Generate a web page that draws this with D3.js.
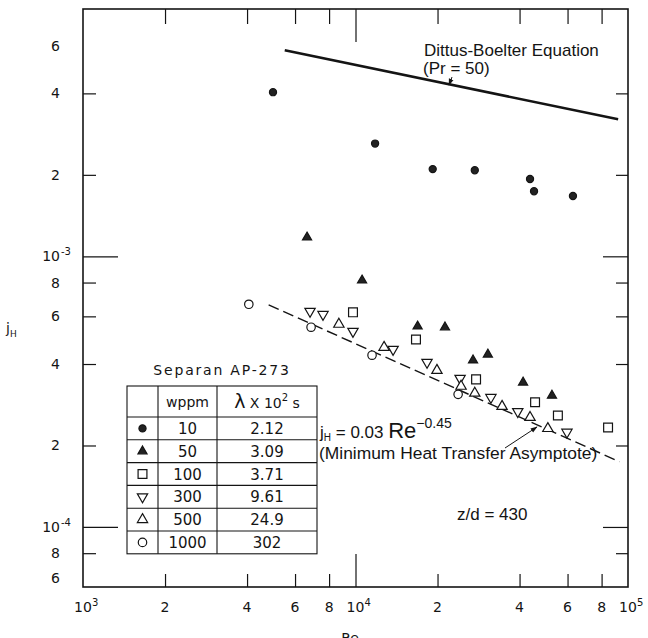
<!DOCTYPE html>
<html>
<head>
<meta charset="utf-8">
<script src="https://cdn.jsdelivr.net/npm/d3@7"></script>
<style>
  body { margin: 0; background: #fff; }
  svg { display: block; }
</style>
</head>
<body>
<svg id="chart" width="648" height="638"></svg>
<script>
// ---- Heat transfer data: j_H versus Re, Separan AP-273 solutions ----
const re10   = [4980, 11800, 19200, 27400, 43700, 45200, 62800];
const jh10   = [4.04e-3, 2.61e-3, 2.10e-3, 2.08e-3, 1.93e-3, 1.74e-3, 1.67e-3];

const re50   = [6640, 10570, 16900, 21300, 27000, 30600, 41200, 52600];
const jh50   = [1.175e-3, 8.15e-4, 5.51e-4, 5.47e-4, 4.13e-4, 4.34e-4, 3.42e-4, 3.06e-4];

const re100  = [9790, 16670, 27700, 45600, 55300, 84500];
const jh100  = [6.21e-4, 4.93e-4, 3.51e-4, 2.89e-4, 2.58e-4, 2.33e-4];

const re300  = [6810, 7600, 9790, 13740, 18300, 24200, 31400, 39400, 59700];
const jh300  = [6.26e-4, 6.10e-4, 5.28e-4, 4.53e-4, 4.06e-4, 3.54e-4, 3.01e-4, 2.67e-4, 2.24e-4];

const re500  = [8690, 12730, 19900, 24400, 27400, 34500, 43700, 50800];
const jh500  = [5.61e-4, 4.61e-4, 3.79e-4, 3.31e-4, 3.12e-4, 2.79e-4, 2.54e-4, 2.31e-4];

const re1000 = [4060, 6870, 11500, 23800];
const jh1000 = [6.65e-4, 5.47e-4, 4.31e-4, 3.09e-4];

// Legend table contents
const wppm         = ["10", "50", "100", "300", "500", "1000"];
const lambdaLabels = ["2.12", "3.09", "3.71", "9.61", "24.9", "302"];
const symbolKeys   = ["filledCircle", "filledTriangle", "square", "downTriangle", "upTriangle", "circle"];

// Correlation lines
const dittusRe = [5500, 92000];
const dittusJh = [5.77e-3, 3.21e-3];
const asymCoef = 0.03;
const asymExp  = -0.45;
const asymRe   = [4800, 93000];

// Axis ticks and labels
const xMajor = [1e4];
const xMinor = [2e3, 4e3, 6e3, 8e3, 2e4, 4e4, 6e4, 8e4];
const xLabelVals = [1e3, 2e3, 4e3, 6e3, 8e3, 1e4, 2e4, 4e4, 6e4, 8e4, 1e5];
const xLabelMant = ["10", "2", "4", "6", "8", "10", "2", "4", "6", "8", "10"];
const xLabelExp  = ["3", "", "", "", "", "4", "", "", "", "", "5"];

const yMajor = [1e-4, 1e-3];
const yMinor = [8e-5, 2e-4, 4e-4, 6e-4, 8e-4, 2e-3, 4e-3];
const yLabelVals = [6e-3, 4e-3, 2e-3, 1e-3, 8e-4, 6e-4, 4e-4, 2e-4, 1e-4, 8e-5, 6e-5];
const yLabelMant = ["6", "4", "2", "10", "8", "6", "4", "2", "10", "8", "6"];
const yLabelExp  = ["", "", "", "-3", "", "", "", "", "-4", "", ""];

// ---- Layout ----
const svg = d3.select("#chart");
const X0 = 83, X1 = 628, Y0 = 587, Y1 = 9;
const INK = "#141414";
const x = d3.scaleLog().domain([1e3, 1e5]).range([X0, X1]);
const y = d3.scaleLog().domain([6e-5, 8.2e-3]).range([Y0, Y1]);

const tickFont = "'DejaVu Sans', sans-serif";
const textFont = "'Liberation Sans', Arial, Helvetica, sans-serif";

// arrowhead
svg.append("defs").append("marker")
  .attr("id", "arrow").attr("viewBox", "0 0 10 10")
  .attr("refX", 9).attr("refY", 5)
  .attr("markerWidth", 7).attr("markerHeight", 7)
  .attr("orient", "auto-start-reverse")
  .append("path").attr("d", "M0,1.5 L10,5 L0,8.5 Z").attr("fill", INK);

// ---- Ticks (all pointing into the plot) ----
function ticks(axis, vals, len, tx, ty) {
  svg.append("g").attr("transform", `translate(${tx},${ty})`)
    .call(axis.tickValues(vals).tickSize(len).tickFormat(""))
    .call(g => g.select(".domain").remove())
    .call(g => g.selectAll("line").attr("stroke", INK).attr("stroke-width", 1.2));
}
ticks(d3.axisLeft(y),   yMinor, -13, X0, 0);
ticks(d3.axisLeft(y),   yMajor, -35, X0, 0);
ticks(d3.axisRight(y),  yMinor, -12, X1, 0);
ticks(d3.axisRight(y),  yMajor, -25, X1, 0);
ticks(d3.axisBottom(x), xMinor, -13, 0, Y0);
ticks(d3.axisBottom(x), xMajor, -33, 0, Y0);
ticks(d3.axisTop(x),    xMinor, -15, 0, Y1);
ticks(d3.axisTop(x),    xMajor, -33, 0, Y1);

// frame
svg.append("rect")
  .attr("x", X0).attr("y", Y1).attr("width", X1 - X0).attr("height", Y0 - Y1)
  .attr("fill", "none").attr("stroke", INK).attr("stroke-width", 1.6);

// ---- Tick labels ----
const yl = svg.append("g").attr("font-family", tickFont).attr("fill", INK);
yLabelVals.forEach((v, i) => {
  let py = y(v) + 5;
  if (v === y.domain()[0]) py -= 9;
  yl.append("text").attr("x", 60).attr("y", py).attr("text-anchor", "end")
    .attr("font-size", 14).text(yLabelMant[i]);
  if (yLabelExp[i]) {
    yl.append("text").attr("x", 61).attr("y", py - 6).attr("font-size", 10)
      .text(yLabelExp[i]);
  }
});

const xl = svg.append("g").attr("font-family", tickFont).attr("fill", INK);
xLabelVals.forEach((v, i) => {
  const px = x(v);
  xl.append("text").attr("x", px).attr("y", 612).attr("text-anchor", "middle")
    .attr("font-size", 14).text(xLabelMant[i]);
  if (xLabelExp[i]) {
    xl.append("text").attr("x", px + 9).attr("y", 606).attr("font-size", 10)
      .text(xLabelExp[i]);
  }
});

// axis titles
svg.append("text").attr("x", 350).attr("y", 643).attr("text-anchor", "middle")
  .attr("font-family", tickFont).attr("font-size", 14).attr("fill", INK).text("Re");
const yt = svg.append("text").attr("x", 6).attr("y", 333)
  .attr("font-family", tickFont).attr("font-size", 14).attr("fill", INK);
yt.append("tspan").text("j");
yt.append("tspan").attr("dy", 4).attr("font-size", 9).text("H");

// ---- Correlation lines ----
const line = d3.line().x(d => x(d[0])).y(d => y(d[1]));

svg.append("path")
  .datum(dittusRe.map((r, i) => [r, dittusJh[i]]))
  .attr("d", line).attr("fill", "none")
  .attr("stroke", INK).attr("stroke-width", 2.6);

svg.append("path")
  .datum(asymRe.map(r => [r, asymCoef * Math.pow(r, asymExp)]))
  .attr("d", line).attr("fill", "none")
  .attr("stroke", INK).attr("stroke-width", 1.4)
  .attr("stroke-dasharray", "11,5");

// ---- Markers ----
const symStyle = {
  filledCircle:   { type: d3.symbolCircle,   size: 40, fill: "#222", rot: 0 },
  filledTriangle: { type: d3.symbolTriangle, size: 36, fill: "#222", rot: 0 },
  square:         { type: d3.symbolSquare,   size: 78, fill: "#fff", rot: 0 },
  downTriangle:   { type: d3.symbolTriangle, size: 46, fill: "#fff", rot: 180 },
  upTriangle:     { type: d3.symbolTriangle, size: 46, fill: "#fff", rot: 0 },
  circle:         { type: d3.symbolCircle,   size: 56, fill: "#fff", rot: 0 }
};
function drawSymbol(g, key, px, py) {
  const s = symStyle[key];
  g.append("path")
    .attr("d", d3.symbol().type(s.type).size(s.size)())
    .attr("transform", `translate(${px},${py}) rotate(${s.rot})`)
    .attr("fill", s.fill).attr("stroke", INK).attr("stroke-width", 1.2);
}

const seriesRe = [re10, re50, re100, re300, re500, re1000];
const seriesJh = [jh10, jh50, jh100, jh300, jh500, jh1000];
const pts = svg.append("g");
seriesRe.forEach((res, k) => {
  res.forEach((r, i) => drawSymbol(pts, symbolKeys[k], x(r), y(seriesJh[k][i])));
});

// ---- Annotations ----
const dt = svg.append("g").attr("font-family", textFont).attr("font-size", 17).attr("fill", INK);
dt.append("text").attr("x", 424).attr("y", 56).text("Dittus-Boelter Equation");
dt.append("text").attr("x", 423).attr("y", 74).text("(Pr = 50)");
svg.append("line").attr("x1", 452).attr("y1", 77).attr("x2", 449).attr("y2", 85)
  .attr("stroke", INK).attr("stroke-width", 1).attr("marker-end", "url(#arrow)");

const eq = svg.append("text").attr("x", 320).attr("y", 438)
  .attr("font-family", textFont).attr("font-size", 17).attr("fill", INK);
eq.append("tspan").text("j");
eq.append("tspan").attr("dy", 3).attr("font-size", 10).text("H");
eq.append("tspan").attr("dy", -3).text(" = " + asymCoef + " ");
eq.append("tspan").attr("font-size", 22).text("Re");
eq.append("tspan").attr("dy", -10).attr("font-size", 14).text("\u2212" + Math.abs(asymExp));
svg.append("text").attr("x", 319).attr("y", 459)
  .attr("font-family", textFont).attr("font-size", 17.4).attr("fill", INK)
  .text("(Minimum Heat Transfer Asymptote)");
svg.append("line").attr("x1", 505).attr("y1", 448).attr("x2", 537).attr("y2", 427)
  .attr("stroke", INK).attr("stroke-width", 1).attr("marker-end", "url(#arrow)");

svg.append("text").attr("x", 457).attr("y", 520)
  .attr("font-family", textFont).attr("font-size", 17).attr("fill", INK)
  .text("z/d = 430");

// ---- Legend table ----
const TL = 127, C1 = 158, C2 = 217, TR = 317, TT = 386, HB = 417, RH = 22.8;
const TB = HB + RH * wppm.length;
const tab = svg.append("g").attr("font-family", tickFont).attr("fill", INK);
tab.append("text").attr("x", (TL + TR) / 2).attr("y", 375).attr("text-anchor", "middle")
  .attr("font-size", 14).attr("letter-spacing", 1.8).text("Separan AP-273");
tab.append("rect").attr("x", TL).attr("y", TT).attr("width", TR - TL).attr("height", TB - TT)
  .attr("fill", "#fff").attr("stroke", INK).attr("stroke-width", 1.1);
[C1, C2].forEach(cx => tab.append("line").attr("x1", cx).attr("x2", cx)
  .attr("y1", TT).attr("y2", TB).attr("stroke", INK).attr("stroke-width", 1.1));
d3.range(wppm.length).forEach(i => tab.append("line")
  .attr("x1", TL).attr("x2", TR).attr("y1", HB + i * RH).attr("y2", HB + i * RH)
  .attr("stroke", INK).attr("stroke-width", 1.1));

tab.append("text").attr("x", (C1 + C2) / 2).attr("y", 407).attr("text-anchor", "middle")
  .attr("font-size", 14).text("wppm");
const hdr = tab.append("text").attr("x", (C2 + TR) / 2).attr("y", 408)
  .attr("text-anchor", "middle").attr("font-size", 14);
hdr.append("tspan").attr("font-size", 19).text("\u03bb");
hdr.append("tspan").text(" X 10");
hdr.append("tspan").attr("dy", -7).attr("font-size", 10).text("2");
hdr.append("tspan").attr("dy", 7).text("  s");

wppm.forEach((w, i) => {
  const cy = HB + (i + 0.5) * RH;
  drawSymbol(tab, symbolKeys[i], (TL + C1) / 2, cy);
  tab.append("text").attr("x", (C1 + C2) / 2).attr("y", cy + 5.5)
    .attr("text-anchor", "middle").attr("font-size", 15).text(w);
  tab.append("text").attr("x", (C2 + TR) / 2).attr("y", cy + 5.5)
    .attr("text-anchor", "middle").attr("font-size", 15).text(lambdaLabels[i]);
});
</script>
</body>
</html>
